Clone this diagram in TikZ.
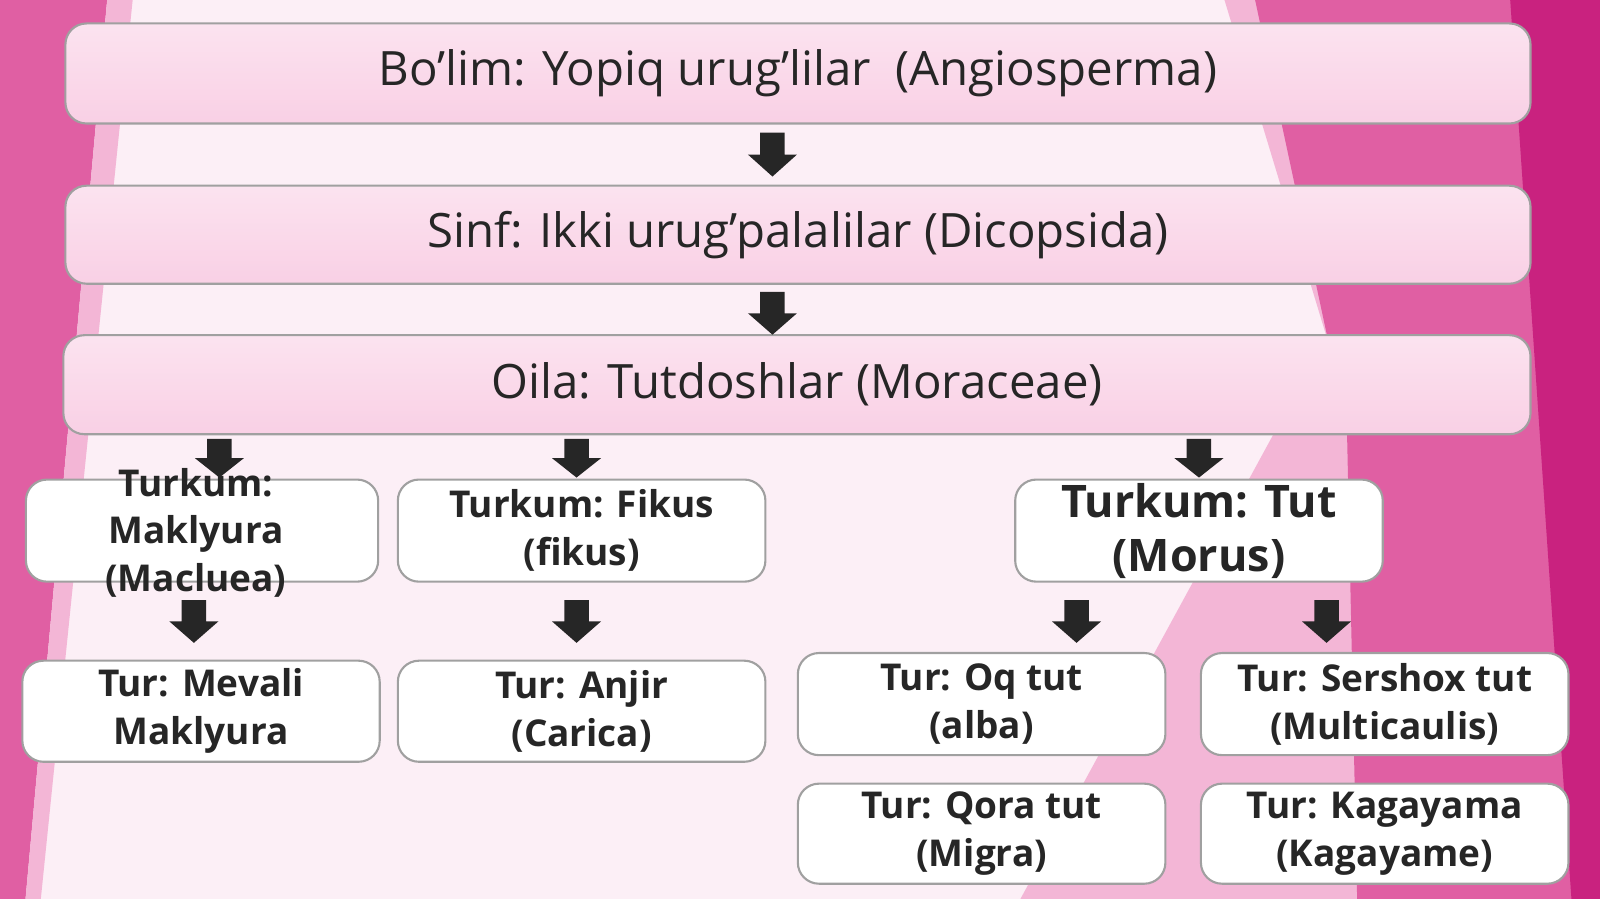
\documentclass[tikz,border=0pt]{standalone}
\usepackage{fontspec}
\setmainfont{Open Sans}
\definecolor{bgl}{HTML}{FCEFF6}
\definecolor{pk1}{HTML}{E05FA3}
\definecolor{pk2}{HTML}{C9227F}
\definecolor{pk3}{HTML}{F3B6D6}
\definecolor{boxf}{HTML}{F9D0E5}
\definecolor{boxd}{HTML}{A0A0A0}
\newcommand\darr[3]{\fill[black!85] (#1-12,#2)--(#1+12,#2)--(#1+12,#2+0.5*#3)--(#1+24,#2+0.5*#3)--(#1,#2+#3)--(#1-24,#2+0.5*#3)--(#1-12,#2+0.5*#3)--cycle;}
\begin{document}
\begin{tikzpicture}[x=0.01cm,y=-0.01cm,scale=1.0204,every node/.append style={transform shape},
 big/.style={draw=boxd,line width=0.6pt,rounded corners=6pt,top color=boxf!60,bottom color=boxf,inner sep=0pt,font=\fontsize{13.2}{15}\selectfont,text=black!85},
 small/.style={draw=boxd,line width=0.6pt,rounded corners=6pt,fill=white,inner sep=0pt,align=center,font=\fontsize{10.3}{13.3}\selectfont\bfseries,text=black!85}]
\useasboundingbox (0,0) rectangle (1568,881);
\fill[bgl] (0,0) rectangle (1568,881);
\fill[pk3] (1200,0)--(1568,0)--(1568,881)--(1000,881)--(1300,330)--cycle;
\fill[pk1] (1230,0)--(1568,0)--(1568,881)--(1330,881)--(1320,420)--cycle;
\fill[pk2] (1480,0)--(1568,0)--(1568,881)--(1540,881)--cycle;
\fill[pk1] (0,0)--(105,0)--(25,881)--(0,881)--cycle;
\fill[pk3] (105,0)--(130,0)--(40,881)--(25,881)--cycle;
\node[big,minimum width=14.35cm,minimum height=0.98cm] (b1) at (782,72) {Bo’lim: Yopiq urug’lilar\ \ (Angiosperma)};
\node[big,minimum width=14.35cm,minimum height=0.96cm] (b2) at (782,230) {Sinf: Ikki urug’palalilar (Dicopsida)};
\node[big,minimum width=14.37cm,minimum height=0.97cm] (b3) at (781,377) {Oila: Tutdoshlar (Moraceae)};
\node[small,minimum width=3.45cm,minimum height=1cm] (t1) at (198,520) {};
\node[small,draw=none,fill=none] (t1t) at (192,522) {Turkum:\\Maklyura\\(Macluea)};
\node[small,minimum width=3.6cm,minimum height=1cm] (t2) at (570,520) {Turkum: Fikus\\(fikus)};
\node[small,minimum width=3.6cm,minimum height=1cm,font=\fontsize{12.5}{15}\selectfont\bfseries] (t3) at (1175,520) {Turkum: Tut\\(Morus)};
\node[small,minimum width=3.5cm,minimum height=0.99cm] (s1) at (197,697) {Tur: Mevali\\Maklyura};
\node[small,minimum width=3.6cm,minimum height=0.99cm] (s2) at (570,697) {Tur: Anjir\\(Carica)};
\node[small,minimum width=3.6cm,minimum height=1cm] (s3) at (962,690) {Tur: Oq tut\\(alba)};
\node[small,minimum width=3.6cm,minimum height=1cm] (s4) at (1357,690) {Tur: Sershox tut\\(Multicaulis)};
\node[small,minimum width=3.6cm,minimum height=0.98cm] (s5) at (962,817) {Tur: Qora tut\\(Migra)};
\node[small,minimum width=3.6cm,minimum height=0.98cm] (s6) at (1357,817) {Tur: Kagayama\\(Kagayame)};
\darr{757}{130}{43}
\darr{757}{286}{42}
\darr{215}{430}{38}
\darr{565}{430}{38}
\darr{1175}{430}{38}
\darr{190}{588}{42}
\darr{565}{588}{42}
\darr{1055}{588}{42}
\darr{1300}{588}{42}
\end{tikzpicture}
\end{document}
